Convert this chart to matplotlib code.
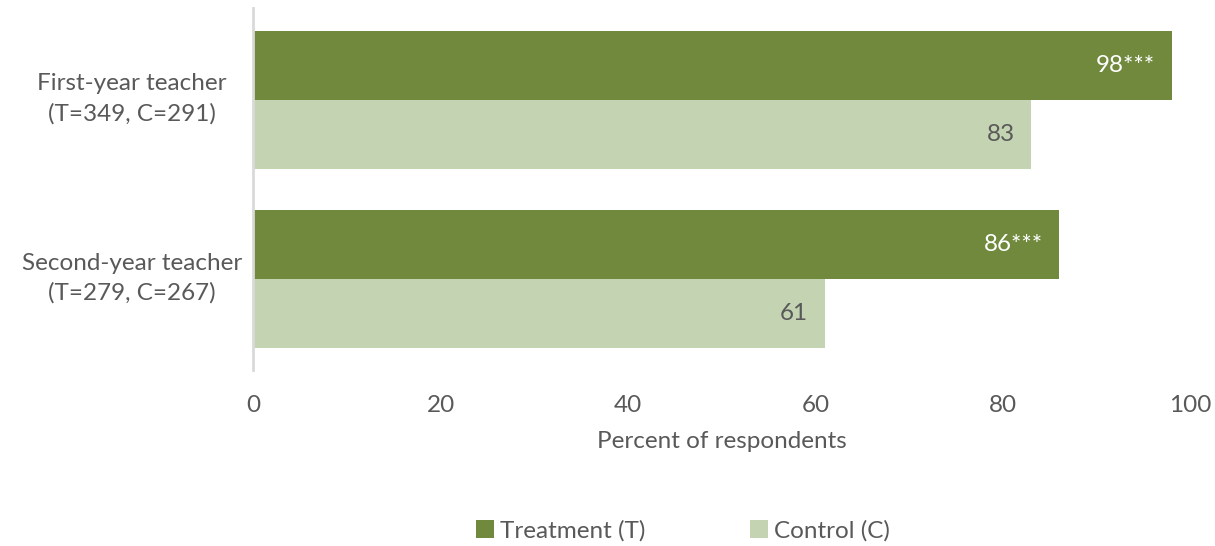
import matplotlib.pyplot as plt
import matplotlib.transforms as mtransforms
import numpy as np

plt.rcParams['font.family'] = ['Lato', 'DejaVu Sans']

groups = ["First-year teacher\n(T=349, C=291)", "Second-year teacher\n(T=279, C=267)"]
treatment = [98, 86]
control = [83, 61]
treatment_labels = ["98***", "86***"]
control_labels = ["83", "61"]

green_dark = "#70893D"
green_light = "#C4D3B2"
text_gray = "#595959"
fs = 17.5

fig = plt.figure(figsize=(12.15, 5.46), dpi=100)
ax = fig.add_axes([0.2082, 0.322, 0.7718, 0.663])

y = np.arange(len(groups))
h = 0.385

bt = ax.barh(y - h / 2, treatment, height=h, color=green_dark, label="Treatment (T)")
bc = ax.barh(y + h / 2, control, height=h, color=green_light, label="Control (C)")

# value labels sit just inside the end of each bar
for t in ax.bar_label(bt, labels=treatment_labels, padding=-12, color="white", fontsize=fs):
    t.set_ha("right")
for t in ax.bar_label(bc, labels=control_labels, padding=-12, color=text_gray, fontsize=fs):
    t.set_ha("right")

ax.set_xlim(0, 100)
ax.set_ylim(1.51, -0.51)
ax.set_xticks(range(0, 101, 20))
ax.set_yticks(y)
ax.set_yticklabels(groups, ha="center", linespacing=1.5)
ax.tick_params(axis="y", length=0, pad=87, labelsize=fs, labelcolor=text_gray)
ax.tick_params(axis="x", length=0, pad=18, labelsize=fs, labelcolor=text_gray)

# nudge the group labels up a little
shift = mtransforms.ScaledTranslation(0, 5 / 72, fig.dpi_scale_trans)
for lab in ax.get_yticklabels():
    lab.set_transform(lab.get_transform() + shift)

for s in ["top", "right", "bottom"]:
    ax.spines[s].set_visible(False)
ax.spines["left"].set_color("#D9D9D9")
ax.spines["left"].set_linewidth(2)

ax.set_xlabel("Percent of respondents", fontsize=fs, color=text_gray, labelpad=11)

fig.legend(handles=[bt, bc], loc="center", bbox_to_anchor=(0.562, 0.028), ncol=2,
           frameon=False, fontsize=fs, labelcolor=text_gray, handlelength=0.75,
           handleheight=0.75, handletextpad=0.25, columnspacing=4.3)

fig.savefig("out.png", dpi=100)
